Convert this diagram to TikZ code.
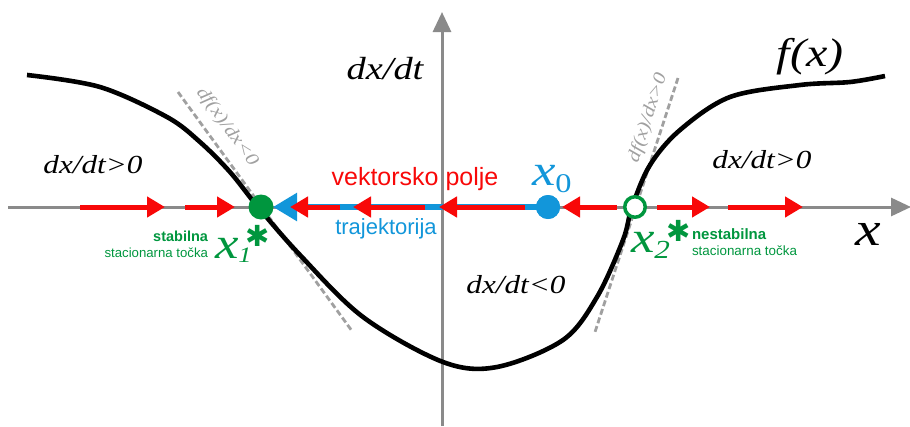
\documentclass[tikz,border=0pt]{standalone}
\usepackage{fontspec}
\usepackage{graphicx}
\setmainfont{Liberation Serif}
\setsansfont{Liberation Sans}
\newfontfamily\mfont[FakeStretch=1.2]{Liberation Serif}
\newfontfamily\dvfont{DejaVu Sans}
\usetikzlibrary{arrows.meta}
\definecolor{vred}{RGB}{248,8,8}
\definecolor{tblue}{RGB}{18,150,218}
\definecolor{pgreen}{RGB}{0,150,62}
\definecolor{axgray}{RGB}{138,138,138}
\definecolor{dashgray}{RGB}{160,160,160}
\begin{document}
\begin{tikzpicture}[x=1pt,y=-1pt,
  axisline/.style={draw=axgray, line width=3pt, -{Triangle[length=20pt,width=18pt]}},
  tangent/.style={draw=dashgray, line width=2.8pt, dash pattern=on 6pt off 3pt},
  fcurve/.style={draw=black, line width=4.6pt, line join=round},
  field/.style={draw=vred, line width=5pt, -{Triangle[length=18pt,width=20pt]}},
  traj/.style={draw=tblue, line width=5.5pt, -{Triangle[length=24pt,width=27pt]}},
  lab/.style={inner sep=0pt, outer sep=0pt},
  mlab/.style={lab, font=\mfont\itshape\fontsize{26}{28}\selectfont},
]
\useasboundingbox (0,0) rectangle (910,426);
% axes
\coordinate (hA) at (8,207);
\coordinate (hB) at (911,207);
\coordinate (vA) at (442,426);
\coordinate (vB) at (442,12);
\draw[axisline] (hA) -- (hB);
\draw[axisline] (vA) -- (vB);
% tangents
\coordinate (t1a) at (178,92);
\coordinate (t1b) at (352,331);
\coordinate (t2a) at (678,78);
\coordinate (t2b) at (595,332);
\draw[tangent] (t1a) -- (t1b);
\draw[tangent] (t2a) -- (t2b);
\node[lab, font=\mfont\itshape\fontsize{18}{18}\selectfont, text=dashgray, rotate=-54] (tl1) at (227,127) {df(x)/dx<0};
\node[lab, font=\mfont\itshape\fontsize{18}{18}\selectfont, text=dashgray, rotate=72] (tl2) at (648,118) {df(x)/dx>0};
% curve f(x)
\draw[fcurve] plot[smooth, tension=0.55] coordinates {(27,75) (100,87) (167,117) (200,142) (230,172) (258,207) (300,255) (363,317) (443,362) (497,367) (563,340) (597,297) (623,240) (632,207) (650,165) (680,130) (730,97) (800,85) (850,82) (885,76)};
% start point x0
\node[circle, fill=tblue, minimum size=24pt, inner sep=0pt] (X0) at (548,207) {};
% trajectory
\coordinate (trTip) at (273,207);
\draw[traj] (X0.center) -- (trTip);
% vector field arrows
\coordinate (a1s) at (340,207); \coordinate (a1e) at (290,207);
\coordinate (a2s) at (425,207); \coordinate (a2e) at (353,207);
\coordinate (a3s) at (525,207); \coordinate (a3e) at (439,207);
\coordinate (a4s) at (617,207); \coordinate (a4e) at (562,207);
\coordinate (a5s) at (657,207); \coordinate (a5e) at (710,207);
\coordinate (a6s) at (728,207); \coordinate (a6e) at (803,207);
\coordinate (a7s) at (80,207);  \coordinate (a7e) at (165,207);
\coordinate (a8s) at (185,207); \coordinate (a8e) at (235,207);
\foreach \i in {1,...,8} {\draw[field] (a\i s) -- (a\i e);}
\node[circle, fill=tblue, minimum size=24pt, inner sep=0pt] (X0b) at (548,207) {};
\node[circle, fill=pgreen, minimum size=25pt, inner sep=0pt] (X1) at (261,207) {};
\node[circle, draw=pgreen, fill=white, line width=3.5pt, minimum size=20.5pt, inner sep=0pt] (X2) at (635,207) {};
% labels
\node[lab, anchor=base, font=\mfont\itshape\fontsize{32}{34}\selectfont] (ldxdt) at (385,79) {dx/dt};
\node[lab, anchor=base, font=\mfont\itshape\fontsize{40}{42}\selectfont] (lfx) at (810,66) {f(x)};
\node[mlab, anchor=base] (lpos1) at (93,173) {dx/dt>0};
\node[mlab, anchor=base] (lpos2) at (762,168) {dx/dt>0};
\node[mlab, anchor=base] (lneg) at (516,293) {dx/dt<0};
\node[lab, anchor=base, font=\mfont\itshape\fontsize{48}{50}\selectfont] (lx) at (868,245) {x};
\node[lab, anchor=base, text=vred, font=\sffamily\fontsize{25}{27}\selectfont] (lvp) at (415,185) {vektorsko polje};
\node[lab, anchor=base, text=tblue, font=\sffamily\fontsize{22}{24}\selectfont] (ltr) at (386,234) {trajektorija};
\node[lab, anchor=base west, text=tblue, font=\mfont\itshape\fontsize{44}{46}\selectfont] (lx0) at (532,185) {x\raisebox{-7pt}{\upshape\fontsize{27}{27}\selectfont 0}};
\node[lab, anchor=base west, text=pgreen, font=\mfont\itshape\fontsize{44}{46}\selectfont] (lx1) at (215,258) {x\raisebox{-4pt}{\fontsize{22}{22}\selectfont 1}};
\node[lab, anchor=base west, text=pgreen, font=\mfont\itshape\fontsize{44}{46}\selectfont] (lx2) at (631,252) {x\raisebox{-6pt}{\fontsize{26}{26}\selectfont 2}};
\node[lab, text=pgreen, font=\dvfont\fontsize{29}{29}\selectfont] (st1) at (258,236) {✱};
\node[lab, text=pgreen, font=\dvfont\fontsize{29}{29}\selectfont] (st2) at (679,231) {✱};
\node[lab, anchor=base east, text=pgreen, font=\sffamily\bfseries\fontsize{14.5}{15}\selectfont] (lst1) at (208,241) {stabilna};
\node[lab, anchor=base east, text=pgreen, font=\sffamily\fontsize{13.2}{14}\selectfont] (lsc1) at (208,257) {stacionarna točka};
\node[lab, anchor=base west, text=pgreen, font=\sffamily\bfseries\fontsize{15}{16}\selectfont] (lst2) at (692,239) {nestabilna};
\node[lab, anchor=base west, text=pgreen, font=\sffamily\fontsize{13.4}{14}\selectfont] (lsc2) at (692,255) {stacionarna točka};
\end{tikzpicture}
\end{document}
